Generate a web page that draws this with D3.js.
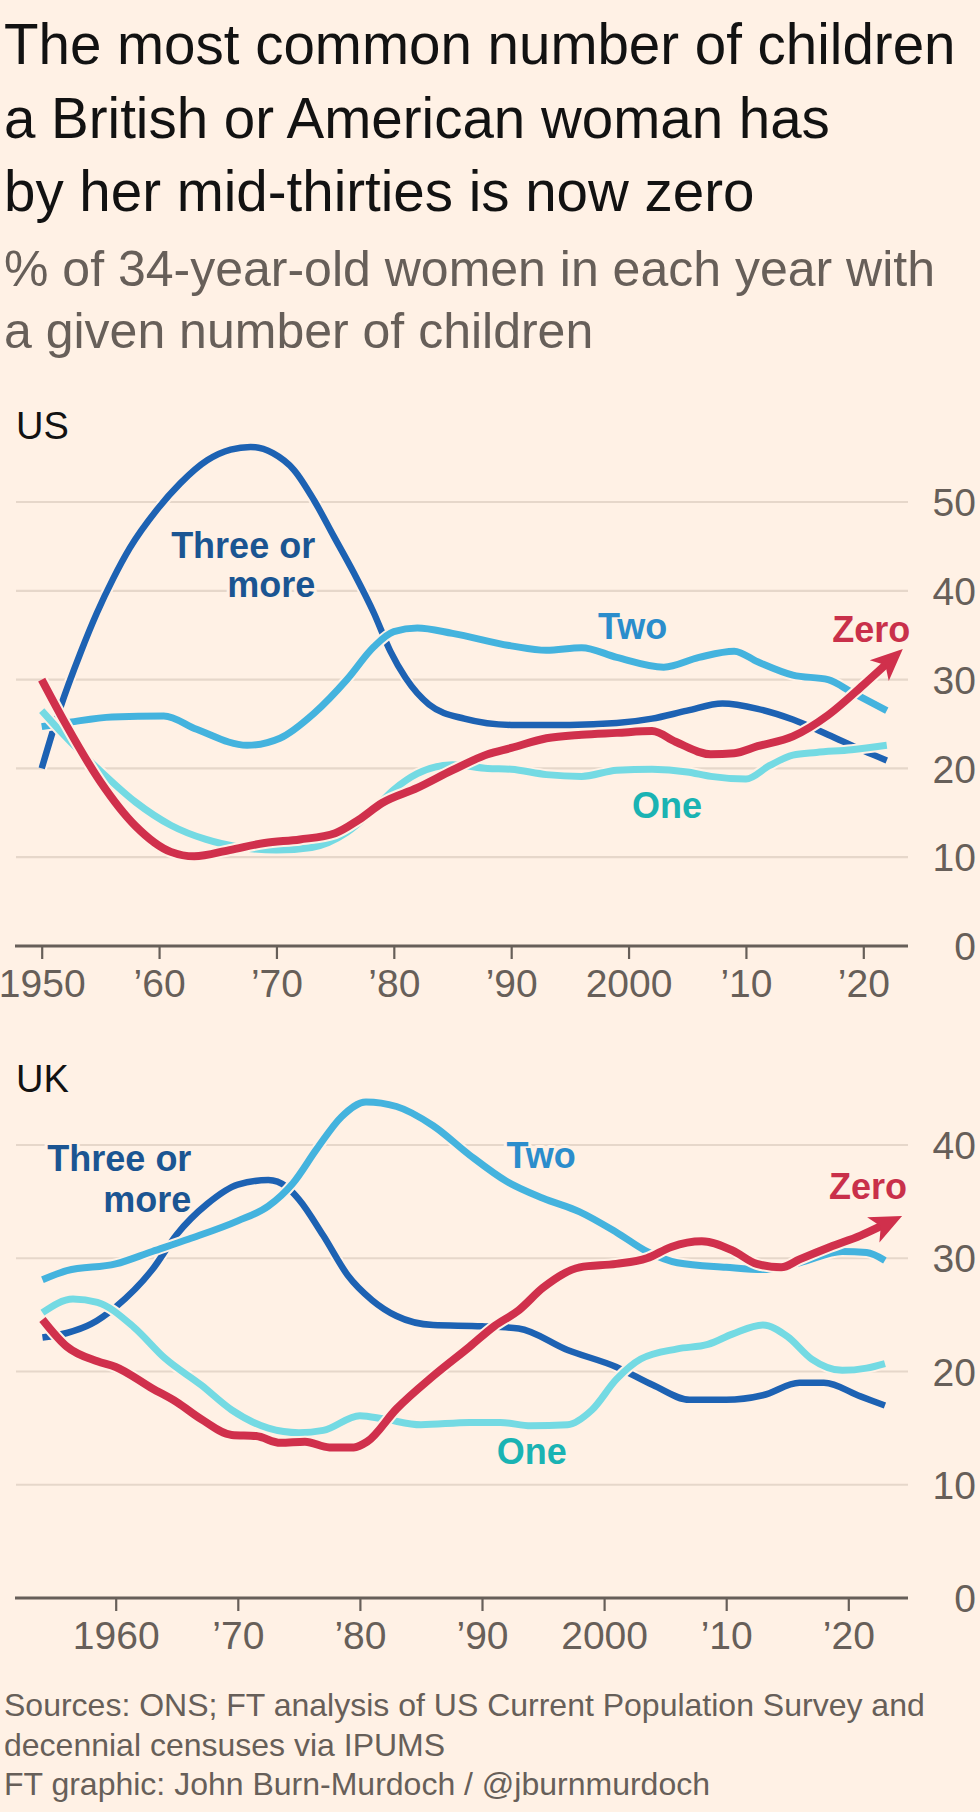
<!DOCTYPE html>
<html><head><meta charset="utf-8">
<script src="https://cdn.jsdelivr.net/npm/d3@7/dist/d3.min.js"></script>
<style>
html,body{margin:0;padding:0;background:#fff1e5;}
svg{display:block;font-family:"Liberation Sans",Arial,sans-serif;}
</style>
</head><body>
<svg id="chart" width="980" height="1812"></svg>
<script>
// ---------- DATA ----------
const titleLines = ["The most common number of children", "a British or American woman has", "by her mid-thirties is now zero"];
const subtitleLines = ["% of 34-year-old women in each year with", "a given number of children"];
const footerLines = ["Sources: ONS; FT analysis of US Current Population Survey and", "decennial censuses via IPUMS", "FT graphic: John Burn-Murdoch / @jburnmurdoch"];

const seriesNames = ["Three or more", "Two", "One", "Zero"];

// US  [year, % of 34-year-old women]
const usThree = [[1950,20],[1951.6,26.9],[1953.3,33],[1954.7,37.5],[1956.1,41.4],[1957.5,44.8],[1959.8,49.1],[1961.8,52.1],[1964.1,54.7],[1966.1,55.9],[1967.8,56.2],[1969.7,55.5],[1971.5,53.6],[1973.2,50.2],[1974.9,46.1],[1976.6,42],[1978.3,37.5],[1979.7,33.2],[1981,30.2],[1983,27.2],[1986,25.6],[1990,24.9],[1995,24.9],[1999,25.1],[2002,25.6],[2005,26.5],[2008,27.3],[2011,26.7],[2014,25.5],[2017,23.8],[2020,22],[2022,20.9]];
const usTwo = [[1950,24.7],[1952.4,25.2],[1956,25.8],[1960.4,25.9],[1963.2,24.4],[1967.5,22.6],[1970.3,23.4],[1973.2,26.2],[1976,30],[1978.3,33.7],[1980,35.4],[1982,35.8],[1985,35.2],[1990,33.8],[1993,33.3],[1996,33.6],[1999,32.5],[2003,31.4],[2006,32.5],[2009,33.2],[2011,32],[2014,30.5],[2017,30],[2019,28.6],[2022,26.5]];
const usOne = [[1950,26.5],[1952,23.6],[1955,19.7],[1958,16.2],[1961,13.6],[1964,12],[1967,11.1],[1970,10.8],[1973,11.1],[1976,12.8],[1978,15],[1980,17.6],[1982,19.4],[1985,20.4],[1988,20],[1990,19.9],[1993,19.3],[1996,19.1],[1999,19.8],[2002,19.9],[2005,19.6],[2007,19.1],[2010,18.8],[2012,20.3],[2014,21.5],[2016,21.8],[2019,22.1],[2022,22.6]];
const usZero = [[1950,30],[1952,25.1],[1955,18.5],[1958,13.5],[1961,10.6],[1963,10.1],[1966,10.8],[1969,11.6],[1972,12],[1975,12.7],[1977,14.2],[1979,16.1],[1982,17.8],[1985,19.8],[1988,21.6],[1990,22.3],[1993,23.4],[1996,23.8],[1999,24],[2002,24.2],[2004,23],[2007,21.6],[2009,21.7],[2011,22.5],[2014,23.6],[2017,26],[2020,29.4],[2022,31.8]];

// UK
const ukThree = [[1954,23],[1956,23.4],[1958,24.2],[1960,25.7],[1963,29],[1965,32.1],[1967.5,34.8],[1970,36.5],[1972.5,36.9],[1974,36.3],[1975,35.2],[1977,32],[1979,28.5],[1981,26.3],[1983,24.9],[1986,24.1],[1990,24],[1993,23.8],[1997,21.9],[2001,20.4],[2004,18.8],[2007,17.5],[2010,17.5],[2013,17.9],[2016,19],[2018,19],[2021,17.8],[2023,17]];
const ukTwo = [[1954,28.1],[1956,28.9],[1960,29.5],[1963,30.6],[1966,31.7],[1970,33.3],[1972.5,34.6],[1974.5,36.6],[1976.5,39.7],[1978.5,42.5],[1980.5,43.8],[1983,43.4],[1986,41.7],[1989,39.1],[1992,36.8],[1995,35.3],[1998,34.1],[2001,32.3],[2003.5,30.6],[2006,29.6],[2010,29.2],[2013,29],[2016,29.6],[2019.5,30.6],[2021.5,30.5],[2023,29.8]];
const ukOne = [[1954,25.2],[1956.5,26.4],[1958.5,26.1],[1961.5,23.9],[1964,21.2],[1967,18.8],[1969.5,16.6],[1972.5,15],[1975,14.6],[1977,14.8],[1980,16.1],[1982,15.8],[1985,15.3],[1989,15.5],[1991.5,15.5],[1994,15.2],[1997,15.3],[1999,16.6],[2001,19.3],[2003,21.1],[2006,22],[2008.5,22.4],[2010.5,23.3],[2013,24.1],[2015,23.1],[2017,21.1],[2019.5,20.1],[2021.5,20.3],[2023,20.7]];
const ukZero = [[1954,24.6],[1956,22.2],[1958.5,20.9],[1960,20.4],[1963,18.5],[1965,17.3],[1967,15.8],[1969.5,14.4],[1971.5,14.3],[1973.5,13.7],[1975.5,13.8],[1977.5,13.3],[1979.5,13.3],[1980.6,13.8],[1983,16.7],[1986,19.6],[1989,22.2],[1991,24],[1993,25.4],[1995,27.4],[1998,29.2],[2001,29.5],[2003.5,30],[2005.5,31],[2008,31.5],[2010.5,30.7],[2012.5,29.5],[2014.5,29.2],[2016,29.9],[2018.5,31],[2021,32],[2022.8,32.9]];

const usXTicks = [1950,1960,1970,1980,1990,2000,2010,2020];
const usXLabels = ["1950","\u201960","\u201970","\u201980","\u201990","2000","\u201910","\u201920"];
const usYTicks = [0,10,20,30,40,50];
const ukXTicks = [1960,1970,1980,1990,2000,2010,2020];
const ukXLabels = ["1960","\u201970","\u201980","\u201990","2000","\u201910","\u201920"];
const ukYTicks = [0,10,20,30,40];

// label anchors in data space: [text, year, value, anchor, series index]
const usLabels = [
  ["Three or", 1973.3, 43.7, "end", 0],
  ["more", 1973.3, 39.3, "end", 0],
  ["Two", 1997.4, 34.6, "start", 1],
  ["One", 2000.3, 14.4, "start", 2],
  ["Zero", 2024.0, 34.2, "end", 3]
];
const ukLabels = [
  ["Three or", 1966.2, 37.7, "end", 0],
  ["more", 1966.2, 34.1, "end", 0],
  ["Two", 1992.0, 38.0, "start", 1],
  ["One", 1991.2, 11.8, "start", 2],
  ["Zero", 2024.8, 35.2, "end", 3]
];

// ---------- STYLE ----------
const BG = "#fff1e5";
const lineColors = ["#1d62b3", "#44b3de", "#74dae3", "#d0304c"];
const labelColors = ["#1b5592", "#2b8dcc", "#1ab3b3", "#c9304a"];
const lineWidths = [6.5, 7, 7, 8];
const GREY = "#675f59";
const GRID = "#e6d7ca";

const svg = d3.select("#chart");
svg.append("rect").attr("width",980).attr("height",1812).attr("fill",BG);

// arrow marker
const defs = svg.append("defs");
defs.append("marker").attr("id","arrow")
  .attr("viewBox","0 0 10 10").attr("refX",3.2).attr("refY",5)
  .attr("markerWidth",32).attr("markerHeight",32)
  .attr("markerUnits","userSpaceOnUse").attr("orient","auto")
  .append("path").attr("d","M0,0.6 L10,5 L0,9.4 L2.6,5 Z").attr("fill",lineColors[3]);

// title
svg.append("g").selectAll("text").data(titleLines).join("text")
  .attr("x",4).attr("y",(d,i)=>64+i*73.5)
  .attr("font-size",56.5).attr("fill","#121212").text(d=>d);
svg.append("g").selectAll("text").data(subtitleLines).join("text")
  .attr("x",4).attr("y",(d,i)=>286+i*62)
  .attr("font-size",50).attr("fill",GREY).text(d=>d);
svg.append("g").selectAll("text").data(footerLines).join("text")
  .attr("x",4).attr("y",(d,i)=>1716+i*39.5)
  .attr("font-size",32).attr("fill",GREY).text(d=>d);

function panel(opts){
  const {name, nameY, xDomain, xRange, yDomain, yRange, series, xTicks, xLabels, yTicks, labels} = opts;
  const x = d3.scaleLinear().domain(xDomain).range(xRange);
  const y = d3.scaleLinear().domain(yDomain).range(yRange);
  const g = svg.append("g");
  const left = 16, right = 908;

  g.append("text").attr("x",16).attr("y",nameY).attr("font-size",38).attr("fill","#121212").text(name);

  // gridlines
  g.append("g").selectAll("line").data(yTicks.filter(d=>d>0)).join("line")
    .attr("x1",left).attr("x2",right).attr("y1",d=>y(d)).attr("y2",d=>y(d))
    .attr("stroke",GRID).attr("stroke-width",2.2);

  // y axis labels (right)
  const ya = g.append("g").attr("transform",`translate(976,0)`)
    .call(d3.axisRight(y).tickValues(yTicks).tickSize(0).tickPadding(0).tickFormat(d3.format("d")));
  ya.select(".domain").remove();
  ya.selectAll("text").attr("text-anchor","end").attr("font-size",39)
    .attr("font-family","Liberation Sans, Arial, sans-serif").attr("fill",GREY).attr("dy","0.35em");

  // x axis
  const xa = g.append("g").attr("transform",`translate(0,${y(0)})`)
    .call(d3.axisBottom(x).tickValues(xTicks).tickSize(13).tickPadding(10).tickFormat((d,i)=>xLabels[i]));
  xa.select(".domain").remove();
  xa.selectAll(".tick line").attr("stroke",GREY).attr("stroke-width",2.2);
  xa.selectAll("text").attr("font-size",39).attr("font-family","Liberation Sans, Arial, sans-serif").attr("fill",GREY);
  g.append("line").attr("x1",left-1).attr("x2",right).attr("y1",y(0)).attr("y2",y(0))
    .attr("stroke",GREY).attr("stroke-width",3);

  const line = d3.line().x(d=>x(d[0])).y(d=>y(d[1])).curve(d3.curveMonotoneX);
  const order = [0,1,2,3];
  const lg = g.append("g").attr("fill","none");
  order.forEach(i=>{
    lg.append("path").datum(series[i]).attr("d",line)
      .attr("stroke",BG).attr("stroke-width",lineWidths[i]+4).attr("stroke-linejoin","round");
    const p = lg.append("path").datum(series[i]).attr("d",line)
      .attr("stroke",lineColors[i]).attr("stroke-width",lineWidths[i]).attr("stroke-linejoin","round");
    if(i===3) p.attr("marker-end","url(#arrow)");
  });

  g.append("g").selectAll("text").data(labels).join("text")
    .attr("x",d=>x(d[1])).attr("y",d=>y(d[2])).attr("text-anchor",d=>d[3])
    .attr("font-size",36).attr("font-weight",700).attr("fill",d=>labelColors[d[4]])
    .attr("stroke",BG).attr("stroke-width",6).attr("paint-order","stroke").attr("stroke-linejoin","round")
    .text(d=>d[0]);
}

panel({name:"US", nameY:439, xDomain:[1950,2020], xRange:[41.7,863.3], yDomain:[0,50], yRange:[946,502],
  series:[usThree,usTwo,usOne,usZero], xTicks:usXTicks, xLabels:usXLabels, yTicks:usYTicks, labels:usLabels});
panel({name:"UK", nameY:1092, xDomain:[1960,2020], xRange:[115.7,848.3], yDomain:[0,40], yRange:[1598,1145],
  series:[ukThree,ukTwo,ukOne,ukZero], xTicks:ukXTicks, xLabels:ukXLabels, yTicks:ukYTicks, labels:ukLabels});
</script>
</body></html>
